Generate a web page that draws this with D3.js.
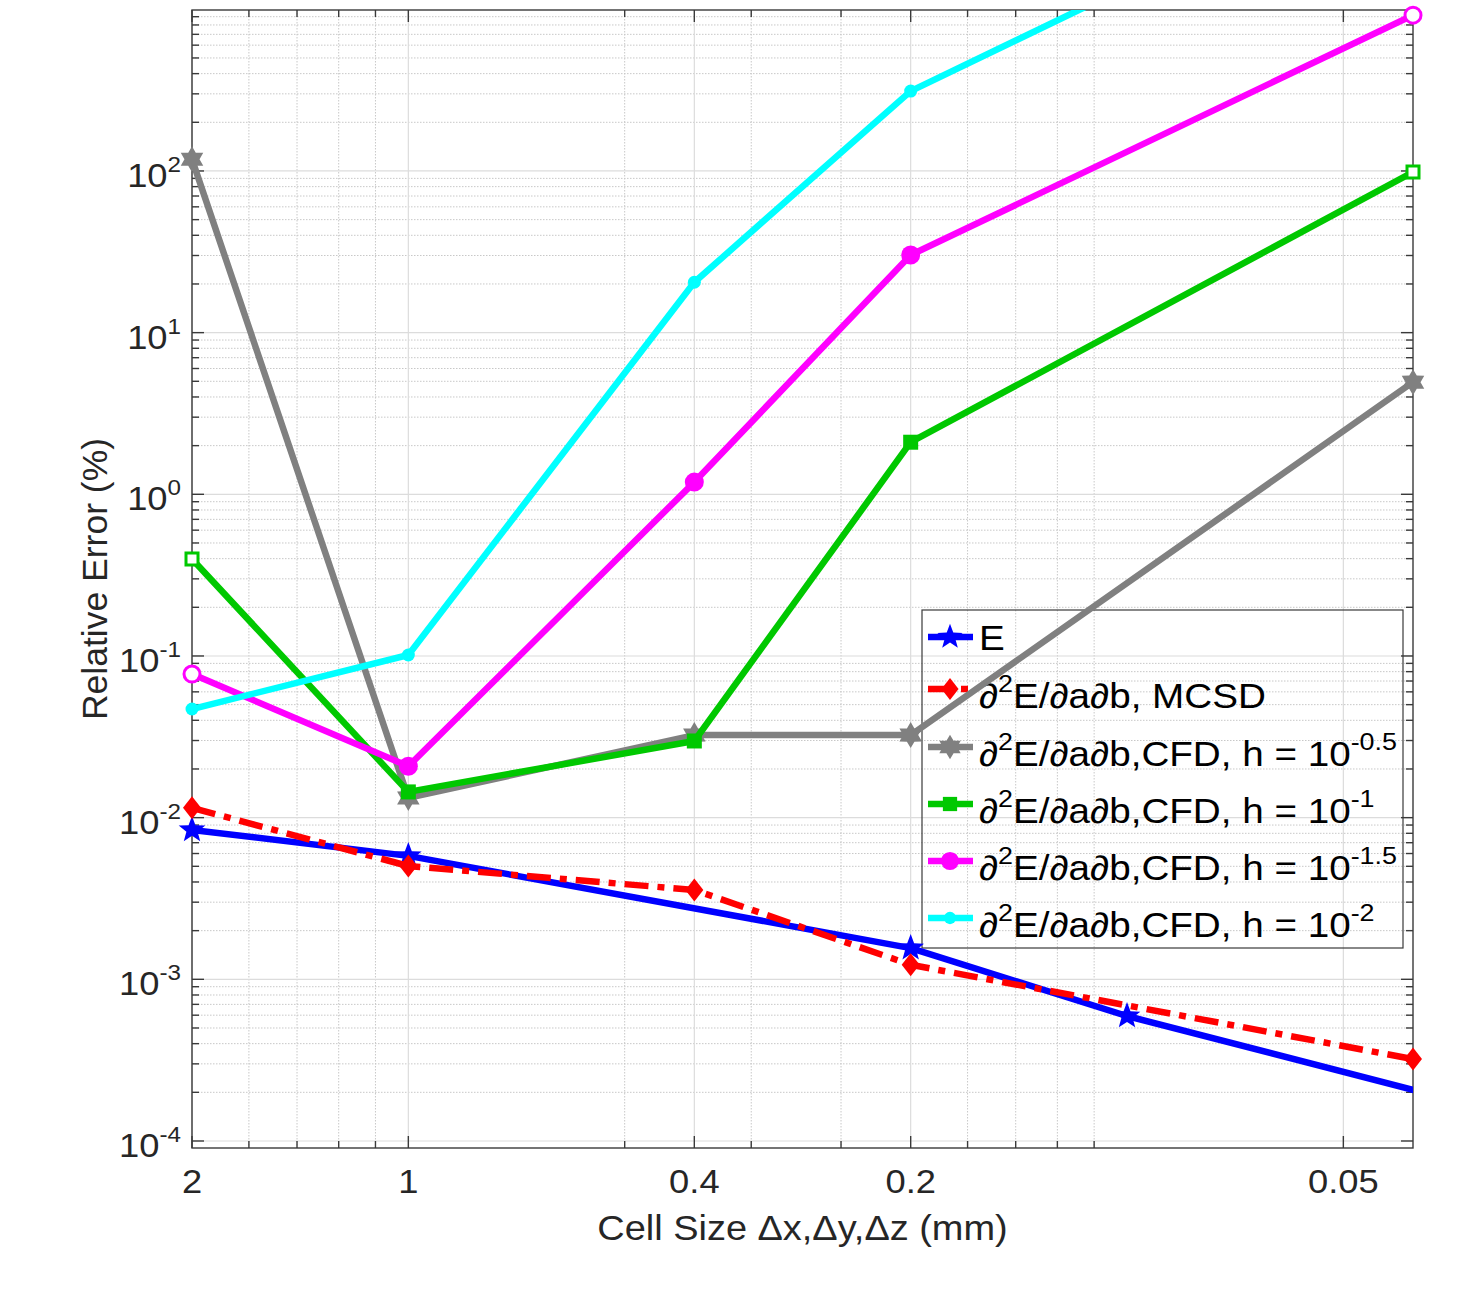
<!DOCTYPE html>
<html>
<head>
<meta charset="utf-8">
<script src="https://cdn.jsdelivr.net/npm/d3@7"></script>
<style>
  html, body { margin: 0; padding: 0; background: #ffffff; }
  svg { display: block; font-family: "Liberation Sans", Arial, Helvetica, sans-serif; }
</style>
</head>
<body>
<svg id="chart" width="1478" height="1296"></svg>
<script>
// ---------------- data ----------------
const xE    = [2, 1, 0.2, 0.1, 0.025];
const yE    = [0.0084, 0.0058, 0.00156, 0.000593, 0.000121];
const xMCSD = [2, 1, 0.4, 0.2, 0.04];
const yMCSD = [0.0115, 0.00502, 0.00357, 0.00123, 0.000321];
const xCFD  = [2, 1, 0.4, 0.2, 0.04];
const yH05  = [118, 0.01325, 0.0324, 0.0324, 4.94];
const yH1   = [0.398, 0.01443, 0.0298, 2.10, 98.4];
const yH15  = [0.0773, 0.0208, 1.19, 30.2, 920];
const yH2   = [0.047, 0.1014, 20.5, 312, 9800];

const xTickValues = [2, 1, 0.4, 0.2, 0.05];
const xTickLabels = ["2", "1", "0.4", "0.2", "0.05"];
const xMinorInverse = [0.6, 0.7, 0.8, 0.9, 2, 3, 4, 6, 7, 8, 9];
const yTickExponents = [-4, -3, -2, -1, 0, 1, 2];

const xLabel = "Cell Size \u0394x,\u0394y,\u0394z (mm)";
const yLabel = "Relative Error (%)";

const legendE    = [{t: "E"}];
const legendMCSD = [{t: "\u2202"}, {t: "2", sup: true}, {t: "E/\u2202a\u2202b, MCSD"}];
const legendH05  = [{t: "\u2202"}, {t: "2", sup: true}, {t: "E/\u2202a\u2202b,CFD, h = 10"}, {t: "-0.5", sup: true}];
const legendH1   = [{t: "\u2202"}, {t: "2", sup: true}, {t: "E/\u2202a\u2202b,CFD, h = 10"}, {t: "-1", sup: true}];
const legendH15  = [{t: "\u2202"}, {t: "2", sup: true}, {t: "E/\u2202a\u2202b,CFD, h = 10"}, {t: "-1.5", sup: true}];
const legendH2   = [{t: "\u2202"}, {t: "2", sup: true}, {t: "E/\u2202a\u2202b,CFD, h = 10"}, {t: "-2", sup: true}];

// ---------------- layout & styles ----------------
const L = 192, R = 1413, T = 10, B = 1148;
const svg = d3.select("#chart");
const axisColor = "#262626";
const LW = 6.5;

const x = d3.scaleLog().domain([2, 0.04]).range([L, R]);
const y = d3.scaleLog().domain([9.05e-5, 990]).range([B, T]);

const series = [
  {xs: xE,    ys: yE,    label: legendE,    color: "#0000ff", marker: "pentagram", size: 14},
  {xs: xMCSD, ys: yMCSD, label: legendMCSD, color: "#ff0000", marker: "diamond",   size: 10, dash: "24,9,7,9"},
  {xs: xCFD,  ys: yH05,  label: legendH05,  color: "#808080", marker: "hexagram",  size: 13},
  {xs: xCFD,  ys: yH1,   label: legendH1,   color: "#00c800", marker: "square",    size: 7.5, edgeHollow: true},
  {xs: xCFD,  ys: yH15,  label: legendH15,  color: "#ff00ff", marker: "circle",    size: 9.5, edgeHollow: true},
  {xs: xCFD,  ys: yH2,   label: legendH2,   color: "#00ffff", marker: "circle",    size: 6.5}
];

function starPath(n, Ro, Ri) {
  const pts = [];
  for (let k = 0; k < 2 * n; k++) {
    const a = -Math.PI / 2 + k * Math.PI / n;
    const r = k % 2 === 0 ? Ro : Ri;
    pts.push([r * Math.cos(a), r * Math.sin(a)]);
  }
  return "M" + pts.map(p => p[0].toFixed(2) + "," + p[1].toFixed(2)).join("L") + "Z";
}
function markerPath(type, s) {
  switch (type) {
    case "pentagram": return starPath(5, s, s * 0.42);
    case "hexagram":  return starPath(6, s, s * 0.58);
    case "diamond":   return `M0,${-s * 1.15}L${s * 0.9},0L0,${s * 1.15}L${-s * 0.9},0Z`;
    case "square":    return `M${-s},${-s}L${s},${-s}L${s},${s}L${-s},${s}Z`;
    case "circle":    return `M${s},0A${s},${s} 0 1,1 ${-s},0A${s},${s} 0 1,1 ${s},0Z`;
  }
}

// ---------------- text helper ----------------
function richText(parent, px, py, parts, o) {
  const sx = o.sx === undefined ? 1.1 : o.sx;
  const g = parent.append("g")
    .attr("transform", `translate(${px},${py}) rotate(${o.rotate || 0}) scale(${sx},1)`);
  const t = g.append("text")
    .attr("text-anchor", o.anchor || "start")
    .attr("font-size", o.size)
    .attr("fill", o.fill || axisColor);
  let shifted = false;
  parts.forEach(p => {
    const ts = t.append("tspan").text(p.t);
    if (p.sup) {
      ts.attr("font-size", o.supSize).attr("dy", shifted ? 0 : -o.supShift);
      shifted = true;
    } else {
      ts.attr("font-size", o.size).attr("dy", shifted ? o.supShift : 0);
      shifted = false;
    }
  });
  return g;
}

svg.append("rect").attr("width", 1478).attr("height", 1296).attr("fill", "#fff");

// ---------------- grid ----------------
const grid = svg.append("g");
const yMinor = [];
for (let e = -5; e <= 3; e++) for (let m = 2; m <= 9; m++) {
  const v = m * Math.pow(10, e);
  if (v > y.domain()[0] && v < y.domain()[1]) yMinor.push(v);
}
const yMajor = yTickExponents.map(e => Math.pow(10, e));
const xMinor = xMinorInverse.map(k => 1 / k);

grid.selectAll(".ymin").data(yMinor).join("line")
  .attr("x1", L).attr("x2", R).attr("y1", d => y(d)).attr("y2", d => y(d))
  .attr("stroke", "#c8c8c8").attr("stroke-width", 1).attr("stroke-dasharray", "1.5,1.5");
grid.selectAll(".xmin").data(xMinor).join("line")
  .attr("y1", T).attr("y2", B).attr("x1", d => x(d)).attr("x2", d => x(d))
  .attr("stroke", "#c8c8c8").attr("stroke-width", 1).attr("stroke-dasharray", "1.5,1.5");
grid.selectAll(".ymaj").data(yMajor).join("line")
  .attr("x1", L).attr("x2", R).attr("y1", d => y(d)).attr("y2", d => y(d))
  .attr("stroke", "#dcdcdc").attr("stroke-width", 1.2);
grid.selectAll(".xmaj").data(xTickValues).join("line")
  .attr("y1", T).attr("y2", B).attr("x1", d => x(d)).attr("x2", d => x(d))
  .attr("stroke", "#dcdcdc").attr("stroke-width", 1.2);

// ---------------- frame & ticks ----------------
const frame = svg.append("g").attr("stroke", "#3a3a3a").attr("stroke-width", 1.4);
const majL = 12, minL = 7;
function tickLines(vals, len, axis) {
  vals.forEach(v => {
    if (axis === "x") {
      const px = x(v);
      frame.append("line").attr("x1", px).attr("x2", px).attr("y1", B).attr("y2", B - len);
      frame.append("line").attr("x1", px).attr("x2", px).attr("y1", T).attr("y2", T + len);
    } else {
      const py = y(v);
      frame.append("line").attr("y1", py).attr("y2", py).attr("x1", L).attr("x2", L + len);
      frame.append("line").attr("y1", py).attr("y2", py).attr("x1", R).attr("x2", R - len);
    }
  });
}
tickLines(xTickValues, majL, "x");
tickLines(xMinor, minL, "x");
tickLines(yMajor, majL, "y");
tickLines(yMinor, minL, "y");
frame.append("rect").attr("x", L).attr("y", T).attr("width", R - L).attr("height", B - T).attr("fill", "none");

// ---------------- tick labels ----------------
xTickValues.forEach((v, i) => {
  richText(svg, x(v), 1193, [{t: xTickLabels[i]}], {size: 33, anchor: "middle"});
});
yTickExponents.forEach(e => {
  richText(svg, 181, y(Math.pow(10, e)) + 16, [{t: "10"}, {t: String(e), sup: true}],
    {size: 33, supSize: 22, supShift: 15, anchor: "end"});
});

// axis labels
richText(svg, (L + R) / 2, 1240, [{t: xLabel}], {size: 34.5, anchor: "middle", sx: 1.1});
richText(svg, 107, (T + B) / 2, [{t: yLabel}], {size: 35.5, anchor: "middle", rotate: -90, sx: 1});

// ---------------- legend (no background) ----------------
const leg = svg.append("g");
leg.append("rect").attr("x", 922).attr("y", 610).attr("width", 481).attr("height", 338)
  .attr("fill", "none").attr("stroke", "#3a3a3a").attr("stroke-width", 1.2);
const legBaselines = [650, 708, 766, 823, 880, 937];
series.forEach((s, i) => {
  const bl = legBaselines[i];
  const ly = bl - (s.label.length > 1 ? 19 : 13);
  leg.append("line").attr("x1", 928).attr("x2", 973).attr("y1", ly).attr("y2", ly)
    .attr("stroke", s.color).attr("stroke-width", LW)
    .attr("stroke-dasharray", s.dash || null);
  leg.append("path").attr("d", markerPath(s.marker, s.size * 0.95))
    .attr("transform", `translate(950,${ly})`).attr("fill", s.color);
  richText(leg, 979, bl, s.label, {size: 34.5, supSize: 24, supShift: 16, sx: 1.12, fill: "#000"});
});

// ---------------- series ----------------
svg.append("clipPath").attr("id", "plotclip")
  .append("rect").attr("x", L).attr("y", T).attr("width", R - L).attr("height", B - T);

const line = d3.line().x(d => x(d[0])).y(d => y(d[1]));
const [xd0, xd1] = x.domain();
const [yd0, yd1] = y.domain();
series.forEach(s => {
  const pts = s.xs.map((v, i) => [v, s.ys[i]]);
  svg.append("path").datum(pts).attr("d", line)
    .attr("clip-path", "url(#plotclip)")
    .attr("fill", "none").attr("stroke", s.color).attr("stroke-width", LW)
    .attr("stroke-linejoin", "round")
    .attr("stroke-dasharray", s.dash || null);
  const visible = pts.filter(p => p[0] <= xd0 && p[0] >= xd1 && p[1] >= yd0 && p[1] <= yd1);
  visible.forEach(p => {
    const atEdge = p[0] === xd0 || p[0] === xd1;
    const hollow = s.edgeHollow && atEdge;
    svg.append("path").attr("d", markerPath(s.marker, hollow ? s.size - 1.5 : s.size))
      .attr("transform", `translate(${x(p[0])},${y(p[1])})`)
      .attr("fill", hollow ? "#fff" : s.color)
      .attr("stroke", hollow ? s.color : "none")
      .attr("stroke-width", hollow ? 3 : 0);
  });
});
</script>
</body>
</html>
